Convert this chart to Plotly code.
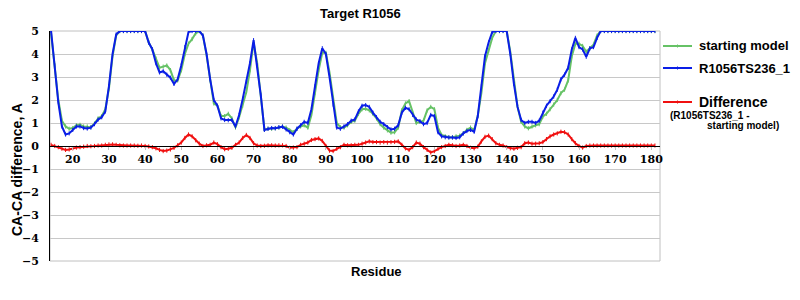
import plotly.graph_objects as go

# ---------------- data ----------------
residues = list(range(14, 182))

model = [
    5.0, 3.5, 1.9, 0.85, 0.5, 0.55, 0.7, 0.85, 0.85, 0.78,          # 14-23
    0.76, 0.8, 0.95, 1.15, 1.25, 1.5, 2.6, 4.0, 4.85, 5.0,          # 24-33
    5.0, 5.0, 5.0, 5.0, 5.0, 5.0, 5.0, 4.5, 4.2, 3.6,               # 34-43
    3.2, 3.25, 3.1, 2.97, 2.7, 2.9, 3.5, 4.3, 4.95, 5.0,            # 44-53
    5.0, 5.0, 4.8, 4.0, 2.9, 2.0, 1.75, 1.2, 1.13, 1.12,            # 54-63
    1.13, 0.85, 1.35, 2.05, 2.8, 3.6, 4.6, 3.5, 2.2, 0.7,           # 64-73
    0.75, 0.78, 0.77, 0.82, 0.84, 0.72, 0.6, 0.5, 0.75, 0.9,        # 74-83
    1.05, 1.0, 1.6, 2.6, 3.6, 4.25, 4.0, 3.0, 1.8, 0.8,             # 84-93
    0.75, 0.85, 0.95, 1.1, 1.15, 1.5, 1.75, 1.78, 1.7, 1.45,        # 94-103
    1.25, 1.05, 0.95, 0.82, 0.72, 0.75, 0.9, 1.45, 1.66, 1.6,       # 104-113
    1.35, 1.15, 1.08, 0.95, 1.0, 1.35, 1.3, 0.6, 0.42, 0.38,        # 114-123
    0.37, 0.37, 0.35, 0.38, 0.55, 0.65, 0.7, 0.62, 1.3, 2.6,        # 124-133
    3.9, 4.5, 4.95, 5.0, 5.0, 5.0, 5.0, 4.0, 2.7, 1.7,              # 134-143
    1.13, 1.0, 1.05, 1.05, 1.0, 1.1, 1.45, 1.75, 1.95, 2.15,        # 144-153
    2.45, 2.9, 3.1, 3.4, 4.2, 4.7, 4.3, 4.2, 3.88, 4.25,            # 154-163
    4.3, 4.7, 5.0, 5.0, 5.0, 5.0, 5.0, 5.0, 5.0, 5.0,               # 164-173
    5.0, 5.0, 5.0, 5.0, 5.0, 5.0, 5.0, 5.0,                         # 174-181
]

starting_model = [
    4.9, 3.5, 2.0, 1.1, 0.85, 0.75, 0.78, 0.9, 0.92, 0.85,          # 14-23
    0.85, 0.82, 0.98, 1.2, 1.3, 1.6, 2.5, 3.9, 4.8, 5.0,            # 24-33
    5.0, 5.0, 5.0, 5.0, 5.0, 5.0, 5.0, 4.5, 4.2, 3.8,               # 34-43
    3.4, 3.45, 3.5, 3.3, 2.85, 2.85, 3.3, 4.0, 4.45, 4.65,          # 44-53
    4.9, 5.0, 4.8, 3.95, 2.85, 1.85, 1.75, 1.3, 1.3, 1.4,           # 54-63
    1.2, 0.8, 1.25, 1.75, 2.35, 3.3, 4.5, 3.6, 2.25, 0.72,          # 64-73
    0.75, 0.75, 0.77, 0.8, 0.85, 0.8, 0.68, 0.6, 0.75, 0.85,        # 74-83
    0.9, 0.8, 1.35, 2.3, 3.3, 4.05, 4.05, 3.2, 2.0, 1.0,            # 84-93
    0.82, 0.8, 0.9, 1.05, 1.1, 1.4, 1.6, 1.62, 1.55, 1.4,           # 94-103
    1.2, 0.95, 0.8, 0.68, 0.58, 0.6, 0.8, 1.55, 1.85, 1.95,         # 104-113
    1.45, 1.0, 1.05, 1.1, 1.55, 1.7, 1.6, 0.8, 0.48, 0.42,          # 114-123
    0.38, 0.38, 0.42, 0.45, 0.55, 0.7, 0.8, 0.7, 1.3, 2.3,          # 124-133
    3.6, 4.15, 4.7, 5.0, 5.0, 5.0, 5.0, 4.1, 2.8, 1.7,              # 134-143
    1.05, 0.85, 0.77, 0.85, 0.9, 0.95, 1.28, 1.4, 1.6, 1.8,         # 144-153
    2.0, 2.3, 2.45, 2.85, 3.9, 4.45, 4.45, 4.35, 4.1, 4.25,         # 154-163
    4.4, 4.8, 5.0, 5.0, 5.0, 5.0, 5.0, 5.0, 5.0, 5.0,               # 164-173
    5.0, 5.0, 5.0, 5.0, 5.0, 5.0, 5.0, 5.0,                         # 174-181
]

difference = [
    0.05, 0.0, -0.05, -0.12, -0.17, -0.15, -0.1, -0.07, -0.05, -0.03,   # 14-23
    0.0, -0.01, 0.0, 0.02, 0.02, 0.05, 0.07, 0.07, 0.05, 0.03,          # 24-33
    0.02, 0.02, 0.02, 0.02, 0.01, 0.02, 0.0, -0.02, -0.05, -0.1,        # 34-43
    -0.17, -0.22, -0.2, -0.15, -0.08, 0.03, 0.15, 0.35, 0.5, 0.42,      # 44-53
    0.25, 0.1, 0.0, 0.03, 0.05, 0.15, 0.08, -0.05, -0.14, -0.12,        # 54-63
    -0.08, 0.05, 0.15, 0.35, 0.48, 0.35, 0.12, 0.02, 0.0, 0.01,         # 64-73
    0.03, 0.03, 0.02, 0.03, 0.03, 0.0, -0.08, -0.07, -0.05, 0.05,       # 74-83
    0.1, 0.15, 0.26, 0.3, 0.33, 0.22, 0.0, -0.2, -0.22, -0.12,          # 84-93
    -0.05, 0.05, 0.03, 0.03, 0.05, 0.05, 0.1, 0.15, 0.2, 0.17,          # 94-103
    0.17, 0.15, 0.17, 0.15, 0.17, 0.18, 0.2, 0.05, -0.1, -0.17,         # 104-113
    -0.05, 0.15, 0.1, -0.05, -0.17, -0.28, -0.22, -0.12, -0.05, 0.0,    # 114-123
    0.05, 0.03, 0.0, 0.02, 0.05, 0.0, -0.08, -0.1, -0.03, 0.2,          # 124-133
    0.4, 0.45, 0.3, 0.12, 0.05, 0.02, -0.05, -0.1, -0.12, -0.08,        # 134-143
    -0.05, 0.12, 0.15, 0.1, 0.1, 0.12, 0.17, 0.3, 0.42, 0.5,            # 144-153
    0.55, 0.62, 0.6, 0.5, 0.3, 0.12, 0.0, -0.07, 0.0, 0.02,             # 154-163
    0.02, 0.02, 0.02, 0.02, 0.02, 0.02, 0.02, 0.02, 0.02, 0.02,         # 164-173
    0.02, 0.02, 0.02, 0.02, 0.02, 0.02, 0.02, 0.02,                     # 174-181
]

x_tick_values = list(range(20, 181, 10))
y_tick_values = list(range(-5, 6))

series_names = ["starting model", "R1056TS236_1", "Difference"]
series_colors = ["#66c266", "#0a1ee6", "#f01010"]

chart_title = "Target R1056"
x_title = "Residue"
y_title = "CA-CA difference, A"
diff_note_1 = "(R1056TS236_1 -"
diff_note_2 = "starting model)"

# ---------------- figure ----------------
W, H = 800, 300
L, R, T, B = 50, 140, 31, 39
PW, PH = W - L - R, H - T - B


def px(xp):
    return (xp - L) / PW


def py(yp):
    return (H - B - yp) / PH


fig = go.Figure()

for name, ys, col in zip(series_names, [starting_model, model, difference], series_colors):
    fig.add_trace(go.Scatter(
        x=residues, y=ys, name=name, mode="lines+markers",
        line=dict(color=col, width=2),
        marker=dict(symbol="line-ns", size=3, line=dict(color=col, width=1)),
        showlegend=False,
    ))

bold_sans = dict(family="Liberation Sans, Arial", color="black", weight="bold")

fig.update_layout(
    width=W, height=H,
    margin=dict(l=L, r=R, t=T, b=B, pad=0),
    paper_bgcolor="white", plot_bgcolor="white",
    xaxis=dict(
        range=[13.7, 182.4], tickmode="array", tickvals=x_tick_values,
        anchor="free", position=0.5,
        showline=True, linecolor="black", linewidth=1,
        showgrid=False, zeroline=False,
        ticks="outside", ticklen=3, tickcolor="#c0c0c0",
        tickfont=dict(family="DejaVu Serif", size=11, color="black", weight="bold"),
    ),
    yaxis=dict(
        range=[-5, 5], tickmode="array", tickvals=y_tick_values,
        showline=True, linecolor="black", linewidth=1,
        showgrid=True, gridcolor="#c8c8c8", gridwidth=1,
        zeroline=False, ticks="", ticklabelstandoff=8,
        tickfont=dict(family="DejaVu Serif", size=11, color="black", weight="bold"),
    ),
)

# plot border (right/top/bottom)
fig.add_shape(type="rect", xref="paper", yref="paper", x0=0, x1=1, y0=0, y1=1,
              line=dict(color="#c0c0c0", width=1), layer="below")

annotations = [
    dict(text=chart_title, x=px(360), y=py(13), font=dict(size=13, **bold_sans)),
    dict(text=x_title, x=px(376), y=py(271), font=dict(size=13, **bold_sans)),
    dict(text=y_title, x=px(17), y=py(170), textangle=-90, font=dict(size=14, **bold_sans)),
]

# manual legend
legend_rows = [46, 68, 102]
legend_sizes = [13, 13, 14]
for name, col, yrow, fs in zip(series_names, series_colors, legend_rows, legend_sizes):
    fig.add_shape(type="line", xref="paper", yref="paper",
                  x0=px(663), x1=px(692), y0=py(yrow), y1=py(yrow),
                  line=dict(color=col, width=2))
    fig.add_shape(type="line", xref="paper", yref="paper",
                  x0=px(677.5), x1=px(677.5), y0=py(yrow - 1.5), y1=py(yrow + 1.5),
                  line=dict(color=col, width=1))
    annotations.append(dict(text=name, x=px(697), y=py(yrow), xanchor="left",
                            font=dict(size=fs, **bold_sans)))

annotations.append(dict(text=diff_note_1, x=px(668), y=py(115), xanchor="left",
                        font=dict(size=10, **bold_sans)))
annotations.append(dict(text=diff_note_2, x=px(705), y=py(125), xanchor="left",
                        font=dict(size=10, **bold_sans)))

for a in annotations:
    a.setdefault("xref", "paper")
    a.setdefault("yref", "paper")
    a.setdefault("showarrow", False)
    a.setdefault("xanchor", "center")
    a.setdefault("yanchor", "middle")
fig.update_layout(annotations=annotations)

fig.write_html("out.html")
